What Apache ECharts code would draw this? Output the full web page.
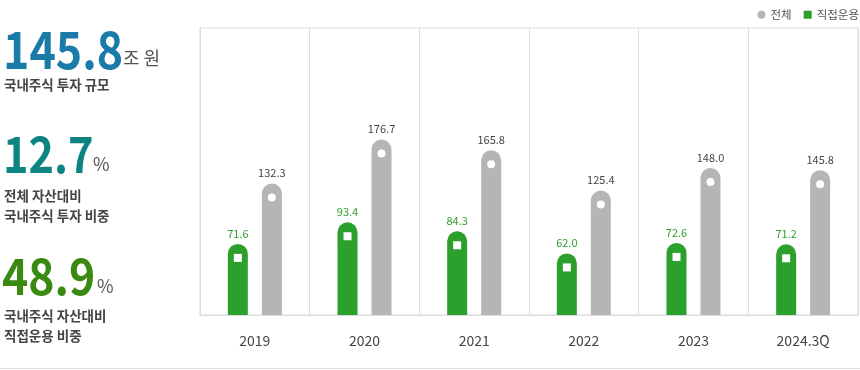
<!DOCTYPE html>
<html>
<head>
<meta charset="utf-8">
<script src="https://cdn.jsdelivr.net/npm/echarts@6/dist/echarts.min.js"></script>
<style>
html,body{margin:0;padding:0;background:#fff;}
#chart{width:860px;height:370px;}
</style>
</head>
<body>
<div id="chart"></div>
<script>
const categories = ['2019', '2020', '2021', '2022', '2023', '2024.3Q'];
const directValues = [71.6, 93.4, 84.3, 62.0, 72.6, 71.2];
const totalValues = [132.3, 176.7, 165.8, 125.4, 148.0, 145.8];
const seriesNames = ['직접운용', '전체'];

const FONT = '"Noto Sans CJK KR", "Noto Sans", sans-serif';
const GREEN = '#2ca02c';
const GRAY = '#b5b5b5';

const chart = echarts.init(document.getElementById('chart'), null, {renderer: 'canvas'});

function txt(x, y, text, size, color, weight, sx) {
  return {
    type: 'text', x: x, y: y, scaleX: sx || 1, silent: true,
    style: {text: text, fill: color, font: (weight || 'normal') + ' ' + size + 'px ' + FONT,
            textAlign: 'left', textVerticalAlign: 'middle'}
  };
}

const option = {
  backgroundColor: '#fff',
  animation: false,
  textStyle: {fontFamily: FONT},
  legend: {
    orient: 'horizontal',
    right: -4, top: 4, padding: 5,
    itemWidth: 8, itemHeight: 8, itemGap: 12,
    textStyle: {fontSize: 11.5, color: '#555', fontFamily: FONT},
    data: [{name: '전체', icon: 'circle'}, {name: '직접운용', icon: 'rect'}]
  },
  grid: {left: 200, right: 2, top: 28, bottom: 55, show: true, borderColor: '#dddddd', borderWidth: 1},
  xAxis: {
    type: 'category',
    data: categories,
    axisLine: {lineStyle: {color: '#dddddd'}},
    axisTick: {show: false},
    splitLine: {show: true, interval: 0, lineStyle: {color: '#dddddd'}},
    axisLabel: {fontSize: 14, color: '#444', margin: 19, fontFamily: FONT}
  },
  yAxis: {
    type: 'value', min: 0, max: 289,
    show: false,
    splitLine: {show: false}
  },
  series: [
    {
      name: seriesNames[0], type: 'bar', data: directValues,
      barWidth: 20, barGap: '70%',
      itemStyle: {color: GREEN, borderRadius: [10, 10, 0, 0]},
      label: {show: true, position: 'top', distance: 5, fontSize: 11, color: GREEN, fontFamily: FONT,
              formatter: p => p.value.toFixed(1)}
    },
    {
      name: seriesNames[1], type: 'bar', data: totalValues,
      barWidth: 20,
      itemStyle: {color: GRAY, borderRadius: [10, 10, 0, 0]},
      label: {show: true, position: 'top', distance: 5, fontSize: 11, color: '#444', fontFamily: FONT,
              formatter: p => p.value.toFixed(1)}
    },
    {
      name: 'm1', type: 'scatter', data: directValues, symbol: 'rect', symbolSize: 8,
      symbolOffset: [-17, 14], itemStyle: {color: '#fff', opacity: 1}, z: 5, silent: true
    },
    {
      name: 'm2', type: 'scatter', data: totalValues, symbol: 'circle', symbolSize: 8,
      symbolOffset: [17, 14], itemStyle: {color: '#fff', opacity: 1}, z: 5, silent: true
    }
  ],
  graphic: [
    txt(3, 49, '145.8', 52, '#1a7aa8', 'bold', 0.86),
    txt(123, 58, '조 원', 18, '#555'),
    txt(4, 85, '국내주식 투자 규모', 13.5, '#444', 'bold'),
    txt(3, 154, '12.7', 50, '#0e8482', 'bold', 0.865),
    txt(93, 164, '%', 18, '#555'),
    txt(4, 195.5, '전체 자산대비', 13.5, '#444', 'bold'),
    txt(4, 216, '국내주식 투자 비중', 13.5, '#444', 'bold'),
    txt(2, 276, '48.9', 50, '#3a8a12', 'bold', 0.89),
    txt(97, 286, '%', 18, '#555'),
    txt(4, 316, '국내주식 자산대비', 13.5, '#444', 'bold'),
    txt(4, 336, '직접운용 비중', 13.5, '#444', 'bold'),
    {type: 'rect', silent: true, shape: {x: 0, y: 368, width: 860, height: 1}, style: {fill: '#dddddd'}}
  ]
};
chart.setOption(option);
</script>
</body>
</html>
